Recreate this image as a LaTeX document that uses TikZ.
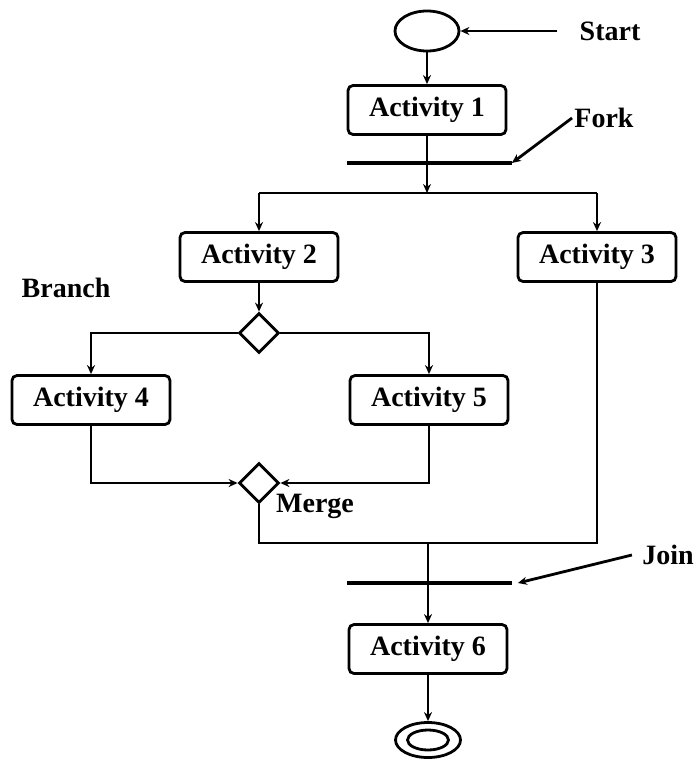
\documentclass[tikz,border=0pt]{standalone}
\usepackage{fontspec}
\setmainfont{Liberation Serif}
\usetikzlibrary{arrows.meta,shapes.geometric,calc}
\tikzset{
  actbox/.style={
    rectangle,
    rounded corners=2.5pt,
    draw,
    line width=1.4pt,
    minimum width=79pt,
    minimum height=24.5pt,
    font=\fontsize{14}{16}\selectfont\bfseries
  },
  decide/.style={
    diamond,
    draw,
    line width=1.4pt,
    minimum size=20pt,
    inner sep=0pt
  },
  bar/.style={
    rectangle,
    fill=black,
    minimum width=82.5pt,
    minimum height=2pt,
    inner sep=0pt
  },
  state/.style={ellipse, draw, line width=1.4pt, inner sep=0pt},
  tag/.style={font=\fontsize{14}{16}\selectfont\bfseries, inner sep=1pt},
  wire/.style={line width=1.4pt},
  flow/.style={-{Stealth[length=4.5pt,width=4pt]}, line width=1.4pt}
}

\begin{document}
\begin{tikzpicture}[x=0.5pt,y=-0.5pt]
\useasboundingbox (0,0) rectangle (697,760);
% top part
\node[state, minimum width=32pt, minimum height=20pt] (init) at (427,31) {};
\node[tag] (startlbl) at (610,31) {Start};
\node[actbox] (act1) at (427,110) {Activity 1};
\node[bar] (fork) at (429,163) {};
\node[tag] (forklbl) at (604,118) {Fork};
\coordinate (split) at (427,193);
\node[actbox] (act2) at (259,257) {Activity 2};
\node[actbox] (act3) at (597,257) {Activity 3};
% branch and merge
\node[tag] (branchlbl) at (66,288) {Branch};
\node[decide] (branch) at (259,333) {};
\node[actbox] (act4) at (91,400) {Activity 4};
\node[actbox] (act5) at (429,400) {Activity 5};
\node[decide] (merge) at (259,483) {};
\node[tag] (mergelbl) at (315,506) {Merge};
% join and end
\coordinate (joinpt) at (428,543);
\node[bar] (join) at (429,583) {};
\node[tag] (joinlbl) at (668,555) {Join};
\node[actbox] (act6) at (428,649) {Activity 6};
\node[state, minimum width=32.5pt, minimum height=17.5pt] (final) at (428,740) {};
\node[state, minimum width=20.5pt, minimum height=10pt] (finalin) at (428,740) {};

\draw[flow] ([xshift=-10pt]startlbl.west) -- (init.east);
\draw[flow] (init) -- (act1);
\draw[flow] (act1) -- (split);
\draw[flow] (forklbl.west) -- (fork.east);
\draw[wire] (split -| act2) -- (split -| act3);
\draw[flow] (split -| act2) -- (act2);
\draw[flow] (split -| act3) -- (act3);
\draw[flow] (act2) -- (branch);
\draw[flow] (branch.west) -| (act4.north);
\draw[flow] (branch.east) -| (act5.north);
\draw[flow] (act4.south) |- (merge.west);
\draw[flow] (act5.south) |- (merge.east);
\draw[wire] (merge.south) |- (joinpt) -| (act3.south);
\draw[flow] (joinpt) -- (act6);
\draw[flow] ([xshift=-4pt]joinlbl.west) -- ([xshift=3pt]join.east);
\draw[flow] (act6) -- (final);
\end{tikzpicture}
\end{document}
